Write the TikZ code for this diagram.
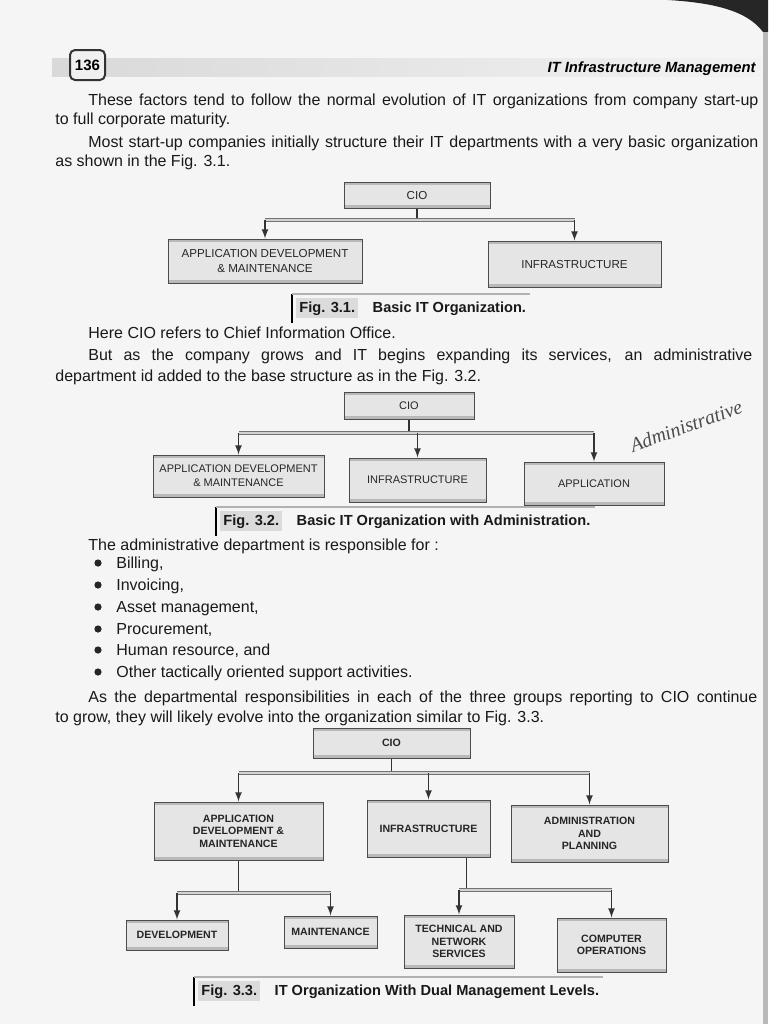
\documentclass[tikz,border=0pt]{standalone}
\usepackage{xcolor}
\usepackage{fontspec}
\setmainfont{Liberation Sans}
\newfontfamily\handfont{Liberation Serif}
\usepackage{tikz}
\usetikzlibrary{shapes,arrows,positioning,calc}

\newcommand{\bodyfont}{\fontsize{8}{9.6}\selectfont}
\newcommand{\boxfont}{\fontsize{5.8}{7.6}\selectfont}
\newcommand{\boxfonts}{\fontsize{5.5}{7.2}\selectfont}
\newcommand{\boxfontb}{\bfseries\fontsize{5.3}{6.2}\selectfont}
\newcommand{\capfont}{\bfseries\fontsize{7.3}{8.5}\selectfont}
\newcommand{\figtag}[1]{{\setlength{\fboxsep}{1.5pt}\colorbox{gray!28}{#1}}}

\tikzset{
  orgbox/.style={draw=black!70, fill=gray!20, line width=0.5pt, align=center,
    inner sep=1pt, text=black!85, font=\boxfont,
    path picture={
      \fill[gray!55] (path picture bounding box.north west) rectangle ([yshift=-1.6pt]path picture bounding box.north east);
      \fill[gray!55] (path picture bounding box.south west) rectangle ([yshift=1.6pt]path picture bounding box.south east);
    }},
  orgboxs/.style={orgbox, font=\boxfonts},
  orgboxb/.style={orgbox, font=\boxfontb},
  link/.style={draw=black!80, line width=0.6pt},
  bar/.style={draw=black!55, double=gray!35, double distance=1.1pt, line width=0.4pt},
  bodytext/.style={anchor=base west, inner sep=0pt, font=\bodyfont, text=black!90},
  capfig/.style={anchor=base west, inner sep=2pt, font=\capfont, text=black!90},
  dot/.style={fill=black!85}
}

\begin{document}
\begin{tikzpicture}[x=0.5pt, y=-0.5pt]
    \useasboundingbox (0,0) rectangle (768,1024);
    % page
    \fill[black!4] (0,0) rectangle (768,1024);
    \fill[black!85] (668,0) .. controls (718,3) and (748,12) .. (763,32) -- (768,32) -- (768,0) -- cycle;
    \fill[gray!55] (763,32) rectangle (768,1024);

    % running head
    \shade[left color=gray!30, right color=gray!10] (52,58) rectangle (760,76);
    \node[draw=black!80, line width=1pt, rounded corners=2.5pt, fill=gray!12,
          minimum width=17.5pt, minimum height=15pt, inner sep=0pt,
          font=\bfseries\fontsize{7.5}{9}\selectfont] (pg) at (87.5,65) {136};
    \node[anchor=base east, inner sep=0pt, font=\bfseries\itshape\fontsize{7.4}{9}\selectfont] (hdr) at (756,72) {IT Infrastructure Management};

    % text before Fig. 3.1
    \node[bodytext] (t1) at (88,105) {\makebox[335pt][s]{These factors tend to follow the normal evolution of IT organizations from company start-up}};
    \node[bodytext] (t2) at (55,124) {to full corporate maturity.};
    \node[bodytext] (t3) at (88,147) {\makebox[335pt][s]{Most start-up companies initially structure their IT departments with a very basic organization}};
    \node[bodytext] (t4) at (55,166) {as shown in the Fig. 3.1.};

    % Fig. 3.1
    \node[orgbox, minimum width=73pt, minimum height=13pt] (cioA) at (417,195) {CIO};
    \node[orgbox, minimum width=97pt, minimum height=22pt] (appA) at (265,261) {APPLICATION DEVELOPMENT\\\& MAINTENANCE};
    \node[orgbox, minimum width=86.5pt, minimum height=23pt] (infA) at (574.5,264) {INFRASTRUCTURE};
    \coordinate (jA) at (cioA.south |- 0,220);
    \draw[link] (cioA.south) -- (jA);
    \draw[bar] (appA.north |- jA) -- (infA.north |- jA);
    \draw[link,-latex] (appA.north |- jA) -- (appA.north);
    \draw[link,-latex] (infA.north |- jA) -- (infA.north);
    \node[capfig] (capA) at (292,312) {\figtag{Fig. 3.1.}\quad Basic IT Organization.};
    \draw[line width=0.9pt] (capA.north west) -- (capA.south west);
    \draw[gray!60, line width=1.2pt] (capA.north west) -- (capA.north east);

    % text before Fig. 3.2
    \node[bodytext] (t5) at (88,338) {Here CIO refers to Chief Information Office.};
    \node[bodytext] (t6) at (88,360) {\makebox[332pt][s]{But as the company grows and IT begins expanding its services, an administrative}};
    \node[bodytext] (t7) at (55,381) {department id added to the base structure as in the Fig. 3.2.};

    % Fig. 3.2
    \node[orgboxs, minimum width=65pt, minimum height=13.5pt] (cioB) at (409,405.5) {CIO};
    \node[orgboxs, minimum width=85.5pt, minimum height=21pt] (appB) at (238.5,476) {APPLICATION DEVELOPMENT\\\& MAINTENANCE};
    \node[orgboxs, minimum width=68.5pt, minimum height=22pt] (infB) at (417.5,480) {INFRASTRUCTURE};
    \node[orgboxs, minimum width=70pt, minimum height=21.5pt] (admB) at (594,483.5) {APPLICATION};
    \coordinate (jB) at (cioB.south |- 0,433);
    \draw[link] (cioB.south) -- (jB);
    \draw[bar] (appB.north |- jB) -- (admB.north |- jB);
    \draw[link,-latex] (appB.north |- jB) -- (appB.north);
    \draw[link,-latex] (infB.north |- jB) -- (infB.north);
    \draw[link,-latex] (admB.north |- jB) -- (admB.north);
    \node[font=\handfont\itshape\fontsize{10}{11}\selectfont, rotate=20, inner sep=0pt, text=black!70] (note) at (686,426) {Administrative};
    \node[capfig] (capB) at (216,525) {\figtag{Fig. 3.2.}\quad Basic IT Organization with Administration.};
    \draw[line width=0.9pt] (capB.north west) -- (capB.south west);
    \draw[gray!60, line width=1.2pt] (capB.north west) -- (capB.north east);

    % list
    \node[bodytext] (t8) at (88,550) {The administrative department is responsible for :};
    \fill[dot] (98,563) circle (1.8pt);
    \node[bodytext] (b1) at (116,568) {Billing,};
    \fill[dot] (98,585) circle (1.8pt);
    \node[bodytext] (b2) at (116,590) {Invoicing,};
    \fill[dot] (98,607) circle (1.8pt);
    \node[bodytext] (b3) at (116,612) {Asset management,};
    \fill[dot] (98,629) circle (1.8pt);
    \node[bodytext] (b4) at (116,634) {Procurement,};
    \fill[dot] (98,650) circle (1.8pt);
    \node[bodytext] (b5) at (116,655) {Human resource, and};
    \fill[dot] (98,672) circle (1.8pt);
    \node[bodytext] (b6) at (116,677) {Other tactically oriented support activities.};
    \node[bodytext] (t9) at (88,702) {\makebox[334.5pt][s]{As the departmental responsibilities in each of the three groups reporting to CIO continue}};
    \node[bodytext] (t10) at (55,722) {to grow, they will likely evolve into the organization similar to Fig. 3.3.};

    % Fig. 3.3
    \node[orgboxb, minimum width=78.5pt, minimum height=15pt] (cioC) at (391.5,743) {CIO};
    \node[orgboxb, minimum width=84.5pt, minimum height=29pt] (appC) at (238.5,831) {APPLICATION\\DEVELOPMENT \&\\MAINTENANCE};
    \node[orgboxb, minimum width=61.5pt, minimum height=28.5pt] (infC) at (428.5,828.5) {INFRASTRUCTURE};
    \node[orgboxb, minimum width=78.5pt, minimum height=28.5pt] (admC) at (589.5,833.5) {ADMINISTRATION\\AND\\PLANNING};
    \node[orgboxb, minimum width=51pt, minimum height=15pt] (devC) at (177,935) {DEVELOPMENT};
    \node[orgboxb, minimum width=46.5pt, minimum height=16pt] (mntC) at (330.5,932) {MAINTENANCE};
    \node[orgboxb, minimum width=55pt, minimum height=26.5pt] (tecC) at (459,941.5) {TECHNICAL AND\\NETWORK\\SERVICES};
    \node[orgboxb, minimum width=54.5pt, minimum height=27pt] (cmpC) at (611.5,945) {COMPUTER\\OPERATIONS};
    \coordinate (jC) at (cioC.south |- 0,773);
    \draw[link] (cioC.south) -- (jC);
    \draw[bar] (appC.north |- jC) -- (admC.north |- jC);
    \draw[link,-latex] (appC.north |- jC) -- (appC.north);
    \draw[link,-latex] (infC.north |- jC) -- (infC.north);
    \draw[link,-latex] (admC.north |- jC) -- (admC.north);
    % second level
    \coordinate (jD) at (appC.south |- 0,893);
    \draw[link] (appC.south) -- (jD);
    \draw[bar] (devC.north |- jD) -- (mntC.north |- jD);
    \draw[link,-latex] (devC.north |- jD) -- (devC.north);
    \draw[link,-latex] (mntC.north |- jD) -- (mntC.north);
    \coordinate (infCout) at ([xshift=19pt]infC.south);
    \coordinate (jE) at (infCout |- 0,890);
    \draw[link] (infCout) -- (jE);
    \draw[bar] (tecC.north |- jE) -- (cmpC.north |- jE);
    \draw[link,-latex] (tecC.north |- jE) -- (tecC.north);
    \draw[link,-latex] (cmpC.north |- jE) -- (cmpC.north);
    \node[capfig] (capC) at (194,995) {\figtag{Fig. 3.3.}\quad IT Organization With Dual Management Levels.};
    \draw[line width=0.9pt] (capC.north west) -- (capC.south west);
    \draw[gray!60, line width=1.2pt] (capC.north west) -- (capC.north east);
\end{tikzpicture}
\end{document}
